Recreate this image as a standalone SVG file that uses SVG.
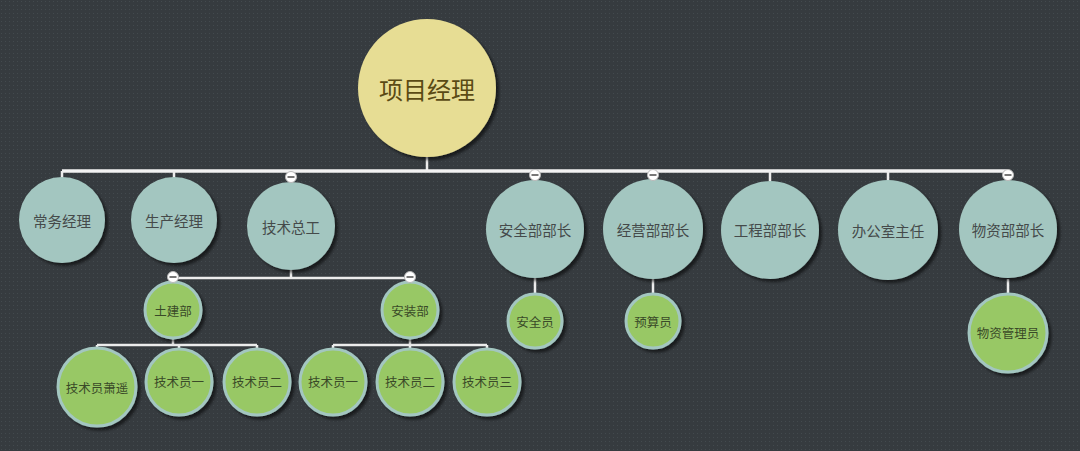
<svg xmlns="http://www.w3.org/2000/svg" width="1080" height="451" viewBox="0 0 1080 451">
<defs>
<pattern id="dots" width="4" height="4" patternUnits="userSpaceOnUse">
<rect width="4" height="4" fill="#363b3f"/>
<rect x="1" y="1" width="1" height="1" fill="#434a4e"/>
</pattern>
<filter id="sh" x="-20%" y="-20%" width="150%" height="150%">
<feDropShadow dx="3" dy="3" stdDeviation="1.5" flood-color="#000" flood-opacity="0.55"/>
</filter>
<g id="tog">
<circle r="5.5" fill="#ffffff" stroke="#b8b8b8" stroke-width="1"/>
<line x1="-3.5" y1="0" x2="3.5" y2="0" stroke="#555" stroke-width="1.6"/>
</g>
</defs>
<style>
.root{fill:#e7dd94;filter:url(#sh)}
.l1{fill:#a3c6c0;filter:url(#sh)}
.l2{fill:#98c865;stroke:#a3c6c0;stroke-width:3;filter:url(#sh)}
.conn{fill:none;stroke:#ececec;stroke-width:2.5}
.main{fill:none;stroke:#f2f2f2;stroke-width:3.5}
text{font-family:"Noto Sans CJK SC","Noto Sans",sans-serif;text-anchor:middle;dominant-baseline:central}
.t0{font-size:24px;fill:#5a4a14}
.t1{font-size:14.5px;fill:#454a4a}
.t2{font-size:12.5px;fill:#3a4a28}
</style>
<rect width="1080" height="451" fill="url(#dots)"/>
<g id="connectors">
<path class="conn" d="M427 157V171"/>
<path class="main" d="M62 171H1008"/>
<path class="conn" d="M62 171V178M174 171V178M291 171V182M535 171V180M653 171V180M770 171V181M888 171V181M1008 171V180"/>
<path class="conn" d="M291 270V278M173 278H410M173 278V282M410 278V282"/>
<path class="conn" d="M173 338V345M97 345H257M97 345V348M179 345V348M257 345V348"/>
<path class="conn" d="M410 338V345M333 345H487M333 345V348M410 345V348M487 345V348"/>
<path class="conn" d="M535 278V293M653 278V293M1008 279V293"/>
</g>
<g id="n-root"><circle class="root" cx="427" cy="88" r="69"/><text class="t0" x="427" y="88">项目经理</text></g>
<g id="n-changwu"><circle class="l1" cx="62" cy="220" r="43"/><text class="t1" x="62" y="220">常务经理</text></g>
<g id="n-shengchan"><circle class="l1" cx="174" cy="220" r="43"/><text class="t1" x="174" y="220">生产经理</text></g>
<g id="n-jishu"><circle class="l1" cx="291" cy="226" r="44"/><text class="t1" x="291" y="226">技术总工</text><use href="#tog" x="291" y="177"/></g>
<g id="n-anquan"><circle class="l1" cx="535" cy="229" r="49"/><text class="t1" x="535" y="229">安全部部长</text><use href="#tog" x="535" y="175"/></g>
<g id="n-jingying"><circle class="l1" cx="653" cy="229" r="50"/><text class="t1" x="653" y="229">经营部部长</text><use href="#tog" x="653" y="175"/></g>
<g id="n-gongcheng"><circle class="l1" cx="770" cy="230" r="49"/><text class="t1" x="770" y="229">工程部部长</text></g>
<g id="n-bangong"><circle class="l1" cx="888" cy="230" r="50"/><text class="t1" x="888" y="230">办公室主任</text></g>
<g id="n-wuzi"><circle class="l1" cx="1008" cy="229" r="49"/><text class="t1" x="1008" y="229">物资部部长</text><use href="#tog" x="1008" y="175"/></g>
<g id="n-tujian"><circle class="l2" cx="173" cy="310" r="28"/><text class="t2" x="173" y="310">土建部</text><use href="#tog" x="173" y="277"/></g>
<g id="n-anzhuang"><circle class="l2" cx="410" cy="310" r="28"/><text class="t2" x="410" y="310">安装部</text><use href="#tog" x="410" y="277"/></g>
<g id="n-xiaoyao"><circle class="l2" cx="97" cy="387" r="39"/><text class="t2" x="97" y="387">技术员萧遥</text></g>
<g id="n-tj1"><circle class="l2" cx="179" cy="382" r="33"/><text class="t2" x="179" y="381">技术员一</text></g>
<g id="n-tj2"><circle class="l2" cx="257" cy="382" r="33"/><text class="t2" x="257" y="381">技术员二</text></g>
<g id="n-az1"><circle class="l2" cx="333" cy="382" r="33"/><text class="t2" x="333" y="381">技术员一</text></g>
<g id="n-az2"><circle class="l2" cx="410" cy="382" r="33"/><text class="t2" x="410" y="381">技术员二</text></g>
<g id="n-az3"><circle class="l2" cx="487" cy="382" r="33"/><text class="t2" x="487" y="381">技术员三</text></g>
<g id="n-anquanyuan"><circle class="l2" cx="535" cy="321" r="27"/><text class="t2" x="535" y="321">安全员</text></g>
<g id="n-yusuan"><circle class="l2" cx="653" cy="321" r="27"/><text class="t2" x="653" y="321">预算员</text></g>
<g id="n-wuziguanli"><circle class="l2" cx="1008" cy="333" r="39"/><text class="t2" x="1008" y="332">物资管理员</text></g>
</svg>
